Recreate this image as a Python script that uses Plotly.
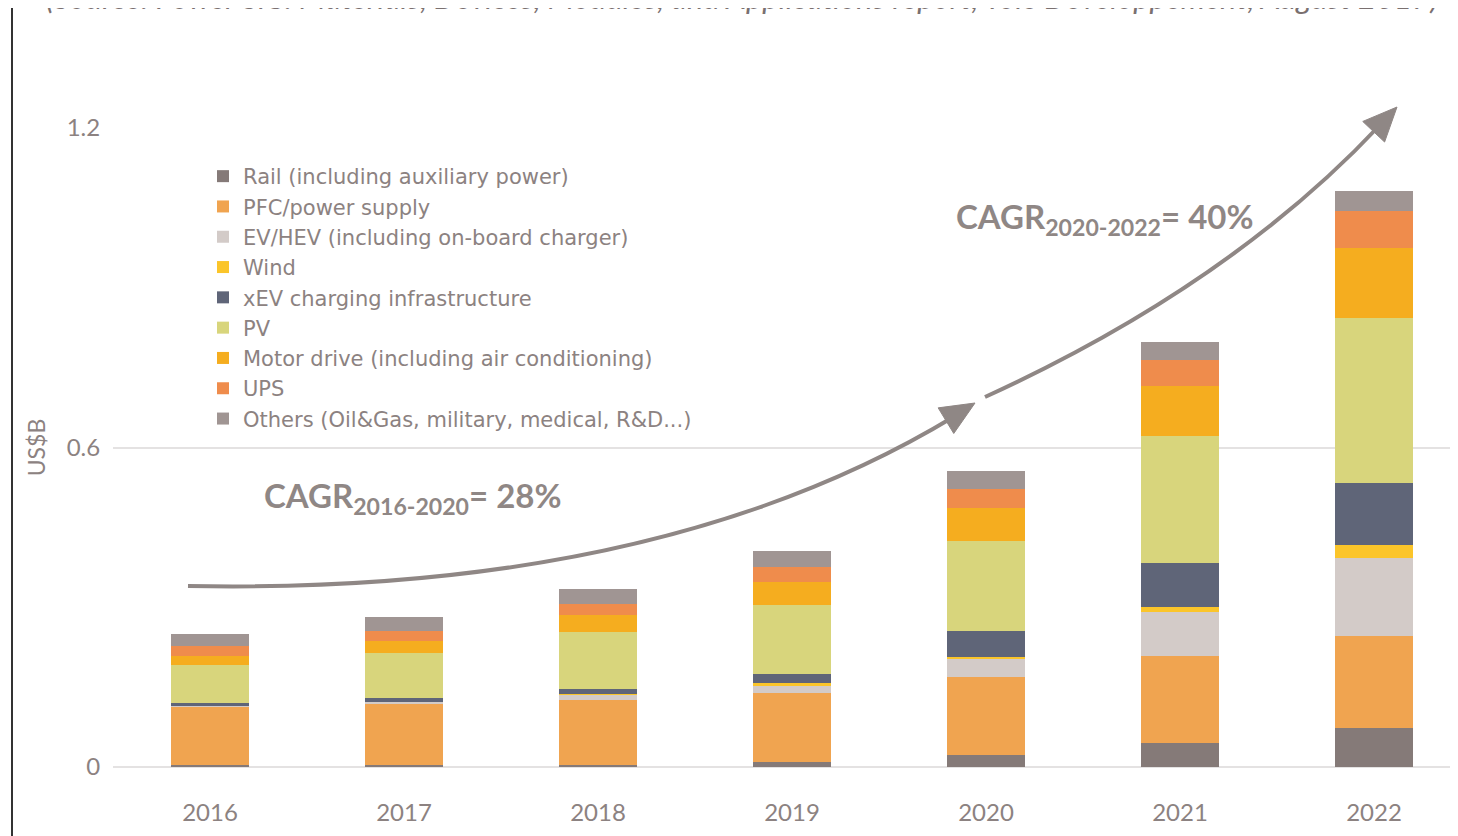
import math
import plotly.graph_objects as go

years = ["2016", "2017", "2018", "2019", "2020", "2021", "2022"]

rail      = [0.003, 0.004, 0.004, 0.009, 0.022, 0.046, 0.073]
pfc       = [0.110, 0.116, 0.122, 0.130, 0.147, 0.162, 0.173]
ev_hev    = [0.001, 0.003, 0.011, 0.014, 0.033, 0.083, 0.147]
wind      = [0.000, 0.000, 0.001, 0.005, 0.005, 0.010, 0.024]
xev       = [0.006, 0.006, 0.008, 0.017, 0.048, 0.083, 0.117]
pv        = [0.071, 0.085, 0.108, 0.130, 0.170, 0.238, 0.310]
motor     = [0.018, 0.023, 0.031, 0.043, 0.062, 0.094, 0.131]
ups       = [0.018, 0.019, 0.022, 0.028, 0.036, 0.049, 0.070]
others    = [0.022, 0.025, 0.028, 0.030, 0.033, 0.034, 0.037]

series = [
    ("Rail (including auxiliary power)", rail, "#857a78"),
    ("PFC/power supply", pfc, "#f0a450"),
    ("EV/HEV (including on-board charger)", ev_hev, "#d3cbc8"),
    ("Wind", wind, "#fbc52a"),
    ("xEV charging infrastructure", xev, "#5f6578"),
    ("PV", pv, "#d8d57c"),
    ("Motor drive (including air conditioning)", motor, "#f5ad1f"),
    ("UPS", ups, "#ef8c4c"),
    ("Others (Oil&Gas, military, medical, R&D...)", others, "#a09593"),
]

TXT = "#8c8281"
FONT = "Lato"

fig = go.Figure()
for name, vals, col in series:
    fig.add_trace(go.Bar(x=years, y=vals, name=name, marker=dict(color=col, line=dict(width=0)),
                         width=0.4))

# page has an 8px body margin: work in reference page pixels, convert to figure coords
OFF = 8
W, H = 1458 - OFF, 836 - OFF
L, R, T, B = 113 - OFF, 1458 - OFF, 128 - OFF, 767 - OFF

def px(x):
    return (x - OFF - L) / (R - L)

def py(y):
    return (B - (y - OFF)) / (B - T)

def qpath(p0, p1, p2):
    return "M {},{} Q {},{} {},{}".format(px(p0[0]), py(p0[1]), px(p1[0]), py(p1[1]), px(p2[0]), py(p2[1]))

def head(tip, d, length=34, half=15):
    n = math.hypot(*d)
    ux, uy = d[0] / n, d[1] / n
    bx, by = tip[0] - ux * length, tip[1] - uy * length
    nx, ny = -uy, ux
    a = (bx + nx * half, by + ny * half)
    b = (bx - nx * half, by - ny * half)
    return "M {},{} L {},{} L {},{} Z".format(px(tip[0]), py(tip[1]), px(a[0]), py(a[1]), px(b[0]), py(b[1]))

AC = "#8f8785"
shapes = [
    dict(type="path", xref="paper", yref="paper", path=qpath((188, 586), (660, 595), (955, 416)),
         line=dict(color=AC, width=4)),
    dict(type="path", xref="paper", yref="paper", path=head((975, 403), (312, -190)),
         fillcolor=AC, line=dict(color=AC, width=1)),
    dict(type="path", xref="paper", yref="paper", path=qpath((985, 397), (1230, 285), (1380, 125)),
         line=dict(color=AC, width=4)),
    dict(type="path", xref="paper", yref="paper", path=head((1397, 107), (165, -175)),
         fillcolor=AC, line=dict(color=AC, width=1)),
    dict(type="line", xref="paper", yref="paper", x0=px(12), x1=px(12), y0=py(0), y1=py(840),
         line=dict(color="#333333", width=2)),
]

annotations = [
    dict(xref="paper", yref="paper", x=px(262), y=py(497), xanchor="left", yanchor="middle",
         text="<b>CAGR<sub>2016-2020</sub>= 28%</b>", showarrow=False,
         font=dict(family=FONT, size=33, color=AC)),
    dict(xref="paper", yref="paper", x=px(954), y=py(218), xanchor="left", yanchor="middle",
         text="<b>CAGR<sub>2020-2022</sub>= 40%</b>", showarrow=False,
         font=dict(family=FONT, size=33, color=AC)),
    dict(xref="paper", yref="paper", x=px(742), y=py(-3), xanchor="center", yanchor="middle",
         text="<i>(Source: Power SiC: Materials, Devices, Modules, and Applications report, Yole Développement, August 2017)</i>",
         showarrow=False, font=dict(family=FONT, size=31, color="#7a7070")),
]

fig.update_layout(
    width=W, height=H,
    barmode="stack",
    paper_bgcolor="white", plot_bgcolor="white",
    margin=dict(l=L, r=W - R, t=T, b=H - B, autoexpand=False),
    font=dict(family=FONT, color=TXT),
    showlegend=True,
    legend=dict(x=px(203), y=py(156), xanchor="left", yanchor="top", traceorder="normal",
                font=dict(family="DejaVu Sans", size=21, color=TXT), bgcolor="rgba(0,0,0,0)",
                itemclick=False, tracegroupgap=0),
    shapes=shapes,
    annotations=annotations,
    xaxis=dict(type="category", range=[-0.5, 6.433], showgrid=False, showline=False, zeroline=False,
               ticks="outside", ticklen=24, tickcolor="rgba(0,0,0,0)",
               tickfont=dict(family=FONT, size=24, color=TXT)),
    yaxis=dict(range=[0, 1.2], tickvals=[0, 0.6, 1.2], ticktext=["0", "0.6", "1.2"],
               showgrid=True, gridcolor="#e4e2e2", gridwidth=2, zeroline=True, zerolinecolor="#e4e2e2",
               zerolinewidth=2, showline=False, ticks="outside", ticklen=7, tickcolor="rgba(0,0,0,0)",
               tickfont=dict(family=FONT, size=24, color=TXT),
               title=dict(text="US$B", font=dict(family=FONT, size=23, color=TXT), standoff=14)),
)

fig.write_html("out.html")
